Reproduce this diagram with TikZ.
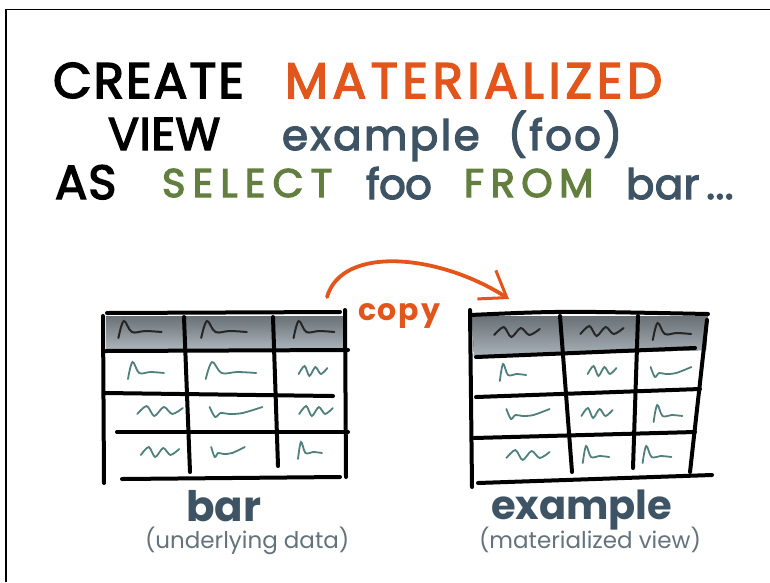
\documentclass[tikz,border=0pt]{standalone}
\usepackage{fontspec}
\setmainfont{Poppins}
\usetikzlibrary{arrows.meta, positioning}
\definecolor{sketchorange}{RGB}{226,86,27}
\definecolor{sketchslate}{RGB}{62,84,100}
\definecolor{sketchgreen}{RGB}{98,127,63}
\definecolor{sketchgray}{RGB}{100,114,124}
\definecolor{headfill}{RGB}{150,161,169}
\definecolor{cellink}{RGB}{80,128,124}

\begin{document}
\begin{tikzpicture}[
    x=1pt, y=-1pt,
    every node/.style={inner sep=0pt, outer sep=0pt},
    hand/.style 2 args={anchor=base west, font=\fontsize{#1}{#1}\selectfont\addfontfeature{FakeBold=3, LetterSpace=#2}},
    label/.style={anchor=base west, sketchslate, font=\fontsize{#1}{#1}\selectfont\bfseries},
    note/.style={anchor=base west, sketchgray, font=\fontsize{23}{23}\selectfont},
    tableframe/.style={minimum width=240pt, minimum height=172pt},
    pen/.style={line width=4pt, line cap=round, black},
    header/.style={top color=headfill!70!black, bottom color=headfill!80},
    scribble/.style={line width=1.8pt, line cap=round, cellink},
    headscribble/.style={scribble, black!85, line width=2pt},
    copyarrow/.style={line width=3.8pt, line cap=round, sketchorange, -{Straight Barb[length=24pt, width=34pt, line width=3pt]}},
    hump/.pic={\draw[pic actions] plot[smooth, tension=0.6] coordinates {(-24,7) (-18,-10) (-9,1) (6,0) (24,1)};},
    wave/.pic={\draw[pic actions] plot[smooth] coordinates {(-24,1) (-14,-7) (-6,3) (4,-6) (13,1) (24,-5)};},
    curl/.pic={\draw[pic actions] plot[smooth] coordinates {(-24,-6) (-19,4) (-14,0) (-6,1) (6,0) (24,-6)};}
]
\useasboundingbox (0,0) rectangle (770,582);
\draw[line width=1.2pt] (6,582) -- (6,9.5) -- (770,9.5);

% NODES
\node[hand={50}{4}] (create) at (53,98) {CREATE};
\node[hand={50}{9}, sketchorange] (materialized) at (285,98) {MATERIALIZED};
\node[hand={46}{1}] (view) at (108,150) {VIEW};
\node[hand={42}{6}, sketchslate] (viewname) at (282,150) {example};
\node[hand={42}{5}, sketchslate] (viewcols) at (508,150) {(foo)};
\node[hand={48}{2}] (as) at (55,199) {AS};
\node[hand={40}{18}, sketchgreen] (select) at (162,197) {SELECT};
\node[hand={42}{-2}, sketchslate] (selcol) at (366,199) {foo};
\node[hand={40}{16}, sketchgreen] (from) at (464,197) {FROM};
\node[hand={42}{1}, sketchslate] (source) at (626,199) {bar\,...};

\node[tableframe] (bartab) at (225,396) {};
\node[tableframe] (extab) at (589,398) {};
\node[anchor=base, sketchorange, font=\fontsize{30}{30}\selectfont\bfseries\addfontfeature{LetterSpace=6}] (copy) at (399,320) {copy};

\node[label=42] (barlabel) at (186,521) {bar};
\node[note] (bardesc) at (145,548) {(underlying data)};
\node[label=40] (exlabel) at (491,519) {example};
\node[note] (exdesc) at (479,548) {(materialized view)};

% TABLES
\fill[header] (106,316) rectangle (344,349);
\draw[pen] (107,313) -- (340,312);
\draw[pen] (103,316) -- (104,483);
\draw[pen] (345,310) -- (346,477);
\draw[pen] (105,351) -- (348,350);
\draw[pen] (105,393) -- (333,396);
\draw[pen] (117,432) -- (348,432);
\draw[pen] (122,479) -- (340,477);
\draw[pen] (184,317) -- (190,472);
\draw[pen] (273,317) -- (278,466);

\fill[header] (472,316) -- (708,316) -- (706,350) -- (474,357) -- cycle;
\draw[pen] (470,315) .. controls (560,311) .. (708,314);
\draw[pen] (470,310) -- (472,487);
\draw[pen] (707,320) -- (690,472);
\draw[pen] (476,357) -- (695,348);
\draw[pen] (476,397) -- (700,389);
\draw[pen] (474,438) -- (695,432);
\draw[pen] (478,483) -- (712,475);
\draw[pen] (560,316) -- (572,472);
\draw[pen] (638,316) -- (633,468);

\foreach \x/\y/\s/\k in {140/331/0.9/hump, 224/331/0.95/hump, 314/331/0.85/hump,
                         517/334/0.95/wave, 602/333/0.9/wave, 672/333/0.8/hump}
  \pic[headscribble, xscale=\s] at (\x,\y) {\k};
\foreach \x/\y/\s/\k in {146/372/0.75/hump, 231/372/1.05/hump, 313/373/0.6/wave,
                         160/413/0.95/wave, 236/413/1.1/curl, 316/413/0.7/wave,
                         160/454/0.8/wave, 228/453/0.7/curl, 310/452/0.5/hump,
                         513/374/0.55/hump, 602/373/0.6/wave, 671/373/0.85/curl,
                         528/415/0.9/curl, 597/415/0.65/wave, 668/415/0.6/hump,
                         528/457/0.9/wave, 596/456/0.55/hump, 657/456/0.6/hump}
  \pic[scribble, xscale=\s] at (\x,\y) {\k};

% ARROWS
\draw[copyarrow] ([shift={(-18,-13)}]bartab.north east) .. controls +(15,-52) and +(-70,-45) .. ([shift={(40,-13)}]extab.north west);

\end{tikzpicture}
\end{document}
